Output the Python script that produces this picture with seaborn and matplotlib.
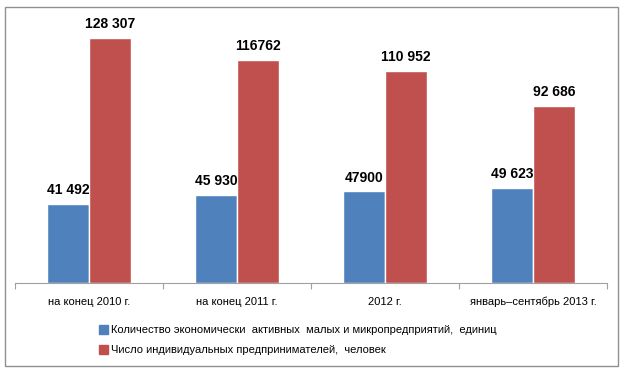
import matplotlib
matplotlib.use("Agg")
import matplotlib.pyplot as plt
import numpy as np
import pandas as pd
import seaborn as sns
from matplotlib.patches import Rectangle

categories = ["на конец 2010 г.", "на конец 2011 г.", "2012 г.", "январь–сентябрь 2013 г."]
firms = [41492, 45930, 47900, 49623]
entrepreneurs = [128307, 116762, 110952, 92686]
firms_labels = ["41 492", "45 930", "47900", "49 623"]
entrepreneurs_labels = ["128 307", "116762", "110 952", "92 686"]
series = ["Количество экономически  активных  малых и микропредприятий,  единиц",
          "Число индивидуальных предпринимателей,  человек"]

df = pd.DataFrame({
    "cat": categories * 2,
    "val": firms + entrepreneurs,
    "series": [series[0]] * 4 + [series[1]] * 4,
})

sns.set_style("white")
plt.rcParams["font.family"] = ["Liberation Sans", "DejaVu Sans"]

fig = plt.figure(figsize=(6.25, 3.73), dpi=100)
ax = fig.add_axes([0.024, 0.241, 0.947, 0.705])

sns.barplot(data=df, x="cat", y="val", hue="series", palette=["#4F81BD", "#C0504D"],
            width=0.57, saturation=1, ax=ax, legend=False)

for cont, labels in zip(ax.containers, [firms_labels, entrepreneurs_labels]):
    ax.bar_label(cont, labels=labels, padding=5, fontsize=10, fontweight="bold", color="black")

ax.set_xlim(-0.5, 3.5)
ax.set_ylim(0, 137500)
ax.set_xlabel("")
ax.set_ylabel("")
ax.set_yticks([])
for s in ["top", "left", "right"]:
    ax.spines[s].set_visible(False)
ax.spines["bottom"].set_color("#a0a0a0")
ax.set_xticks(range(4))
ax.set_xticklabels(categories, fontsize=8, color="black")
ax.tick_params(axis="x", which="major", length=0, pad=10)
ax.set_xticks(np.arange(-0.5, 4, 1), minor=True)
ax.tick_params(axis="x", which="minor", bottom=True, length=4, width=0.8,
               color="#a0a0a0", direction="out")

handles = [Rectangle((0, 0), 1, 1, color=c) for c in ["#4F81BD", "#C0504D"]]
fig.legend(handles, series, loc="center left", bbox_to_anchor=(0.142, 0.088),
           frameon=False, fontsize=8, handlelength=0.8, handleheight=0.8,
           handletextpad=0.3, labelspacing=0.9, labelcolor="black")

fig.patches.append(Rectangle((5 / 625, 7 / 373), 613 / 625, 359 / 373, transform=fig.transFigure,
                             fill=False, edgecolor="#909090", linewidth=1))

fig.savefig("out.png", dpi=100)
